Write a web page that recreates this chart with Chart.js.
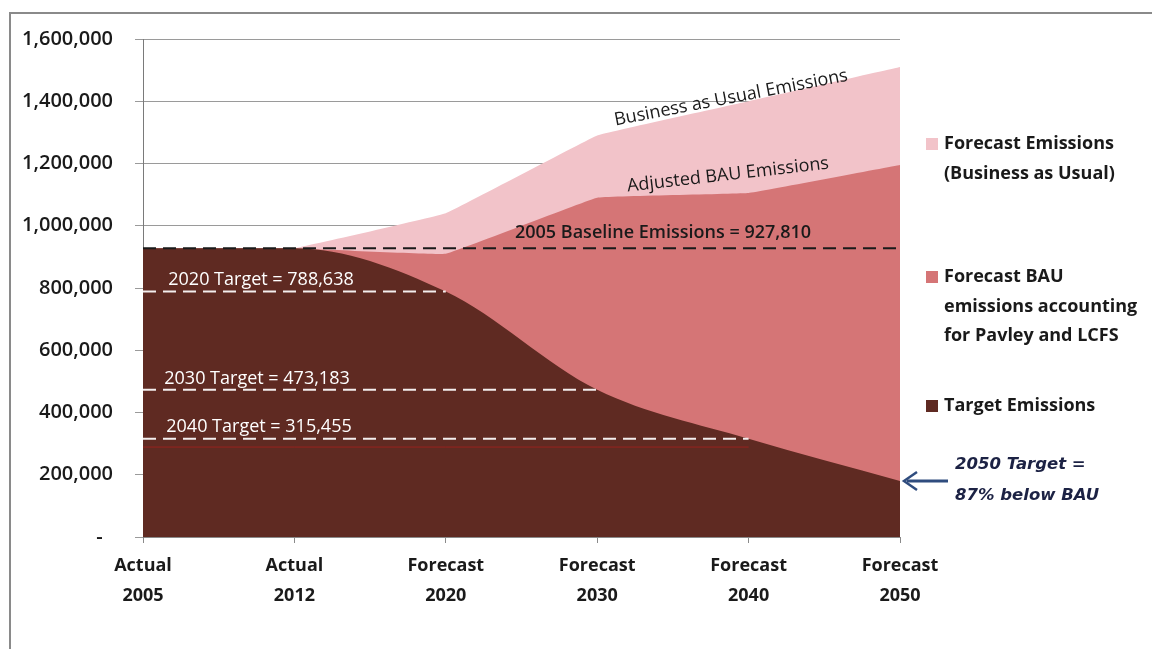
<!DOCTYPE html>
<html>
<head>
<meta charset="utf-8">
<script src="https://cdn.jsdelivr.net/npm/chart.js@4.4.1/dist/chart.umd.min.js"></script>
<style>
  html, body { margin: 0; padding: 0; background: #ffffff; }
  #wrap { position: relative; width: 1152px; height: 649px; }
  canvas { display: block; }
</style>
</head>
<body>
<div id="wrap"><canvas id="c" width="1152" height="649"></canvas></div>
<script>
// ---- data ----
const categories = [["Actual", "2005"], ["Actual", "2012"], ["Forecast", "2020"], ["Forecast", "2030"], ["Forecast", "2040"], ["Forecast", "2050"]];
const bauEmissions = [927810, 927810, 1040000, 1290000, 1400000, 1510000];
const adjustedBau = [927810, 927810, 910000, 1090000, 1105000, 1195000];
const targetEmissions = [927810, 927810, 788638, 473183, 315455, 180000];
const baselineValue = 927810;
const target2020 = [788638, 788638, 788638, null, null, null];
const target2030 = [473183, 473183, 473183, 473183, null, null];
const target2040 = [315455, 315455, 315455, 315455, 315455, null];
const redRule = [289000, 289000, 289000, 289000, 289000, null];
const yTicks = [0, 200000, 400000, 600000, 800000, 1000000, 1200000, 1400000, 1600000];
const legendLabels = [
  ["Forecast Emissions", "(Business as Usual)"],
  ["Forecast BAU", "emissions accounting", "for Pavley and LCFS"],
  ["Target Emissions"]
];

const COL_BAU = "#f2c3c9";
const COL_ADJ = "#d57576";
const COL_TGT = "#5f2a22";
const FONT = "'Open Sans', 'Liberation Sans', sans-serif";

const annotations = {
  id: "annotations",
  afterDatasetsDraw(chart) {
    const ctx = chart.ctx;
    const ys = chart.scales.y;
    ctx.save();
    // target labels
    ctx.fillStyle = "#ffffff";
    ctx.font = "400 18px " + FONT;
    ctx.textAlign = "center";
    ctx.textBaseline = "middle";
    ctx.fillText("2020 Target = 788,638", 261, ys.getPixelForValue(788638) - 12);
    ctx.fillText("2030 Target = 473,183", 257, ys.getPixelForValue(473183) - 11);
    ctx.fillText("2040 Target = 315,455", 259, ys.getPixelForValue(315455) - 12);
    // baseline label
    ctx.fillStyle = "#1a1a1a";
    ctx.font = "600 18px " + FONT;
    ctx.fillText("2005 Baseline Emissions = 927,810", 663, ys.getPixelForValue(baselineValue) - 15);
    // rotated labels
    ctx.font = "400 18px " + FONT;
    ctx.save();
    ctx.translate(731, 98);
    ctx.rotate(-10.9 * Math.PI / 180);
    ctx.fillText("Business as Usual Emissions", 0, 0);
    ctx.restore();
    ctx.save();
    ctx.translate(728, 175);
    ctx.rotate(-6.5 * Math.PI / 180);
    ctx.fillText("Adjusted BAU Emissions", 0, 0);
    ctx.restore();
    ctx.restore();
  },
  afterDraw(chart) {
    const ctx = chart.ctx;
    const ys = chart.scales.y, xs = chart.scales.x;
    ctx.save();
    // outer frame
    ctx.strokeStyle = "#8a8a8a";
    ctx.lineWidth = 2;
    ctx.beginPath();
    ctx.moveTo(10, 649);
    ctx.lineTo(10, 13);
    ctx.lineTo(1152, 13);
    ctx.stroke();
    // legend
    const colors = [COL_BAU, COL_ADJ, COL_TGT];
    const starts = [144, 277, 406];
    ctx.font = "700 18px " + FONT;
    ctx.textAlign = "left";
    ctx.textBaseline = "middle";
    legendLabels.forEach((lines, i) => {
      ctx.fillStyle = colors[i];
      ctx.fillRect(926, starts[i] - 6, 12, 12);
      ctx.fillStyle = "#1a1a1a";
      lines.forEach((t, j) => ctx.fillText(t, 944, starts[i] + j * 29.5));
    });
    // 2050 note
    ctx.fillStyle = "#1c2244";
    ctx.font = "italic 700 16.5px 'DejaVu Sans', sans-serif";
    ctx.fillText("2050 Target =", 955, 465);
    ctx.fillText("87% below BAU", 955, 496);
    // arrow
    const ay = ys.getPixelForValue(targetEmissions[5]);
    const ax = xs.getPixelForValue(5) + 3;
    ctx.strokeStyle = "#2f4c7e";
    ctx.lineWidth = 3;
    ctx.beginPath();
    ctx.moveTo(948, ay);
    ctx.lineTo(ax + 4, ay);
    ctx.stroke();
    ctx.lineWidth = 2.5;
    ctx.beginPath();
    ctx.moveTo(ax + 14, ay - 9);
    ctx.lineTo(ax + 1, ay);
    ctx.lineTo(ax + 14, ay + 9);
    ctx.stroke();
    ctx.restore();
  }
};

function dashLine(data, color, width, dash) {
  return {
    data: data, borderColor: color, borderWidth: width, borderDash: dash,
    fill: false, pointRadius: 0, tension: 0, order: -1, spanGaps: false
  };
}

new Chart(document.getElementById("c"), {
  type: "line",
  data: {
    labels: categories,
    datasets: [
      { label: "Target Emissions", data: targetEmissions, backgroundColor: COL_TGT, borderColor: COL_TGT, borderWidth: 0,
        fill: "origin", pointRadius: 0, cubicInterpolationMode: "monotone", order: 1 },
      { label: "Forecast BAU emissions accounting for Pavley and LCFS", data: adjustedBau, backgroundColor: COL_ADJ, borderColor: COL_ADJ, borderWidth: 0,
        fill: "origin", pointRadius: 0, tension: 0.05, order: 2 },
      { label: "Forecast Emissions (Business as Usual)", data: bauEmissions, backgroundColor: COL_BAU, borderColor: COL_BAU, borderWidth: 0,
        fill: "origin", pointRadius: 0, tension: 0.05, order: 3 },
      dashLine(redRule, "rgba(200,30,30,0.55)", 1, []),
      dashLine(target2020, "#f4eeee", 2, [13, 7]),
      dashLine(target2030, "#f4eeee", 2, [13, 7]),
      dashLine(target2040, "#f4eeee", 2, [13, 7]),
      dashLine(categories.map(() => baselineValue), "#1a1a1a", 2, [13, 7])
    ]
  },
  options: {
    responsive: false,
    animation: false,
    events: [],
    layout: { padding: { left: 0, right: 252, top: 39, bottom: 0 } },
    plugins: { legend: { display: false }, tooltip: { enabled: false }, title: { display: false } },
    scales: {
      x: {
        offset: false,
        afterFit(s) { s.height = 112; },
        grid: { display: true, drawOnChartArea: false, drawTicks: true, tickLength: 6, color: "#8a8a8a" },
        border: { display: true, color: "#8a8a8a", width: 1 },
        ticks: { color: "#1a1a1a", font: { family: FONT, size: 18, weight: "700", lineHeight: 1.65 }, padding: 8, maxRotation: 0, autoSkip: false }
      },
      y: {
        min: 0, max: 1600000,
        afterFit(s) { s.width = 143; },
        afterBuildTicks(s) { s.ticks = yTicks.map(v => ({ value: v })); },
        grid: { color: "#9a9a9a", lineWidth: 1, tickLength: 8, drawTicks: true },
        border: { display: true, color: "#7a7a7a", width: 1 },
        ticks: {
          color: "#1a1a1a", padding: 22,
          font: { family: FONT, size: 20, weight: "600" },
          callback: v => v === 0 ? "-  " : v.toLocaleString("en-US")
        }
      }
    }
  },
  plugins: [annotations]
});
</script>
</body>
</html>
